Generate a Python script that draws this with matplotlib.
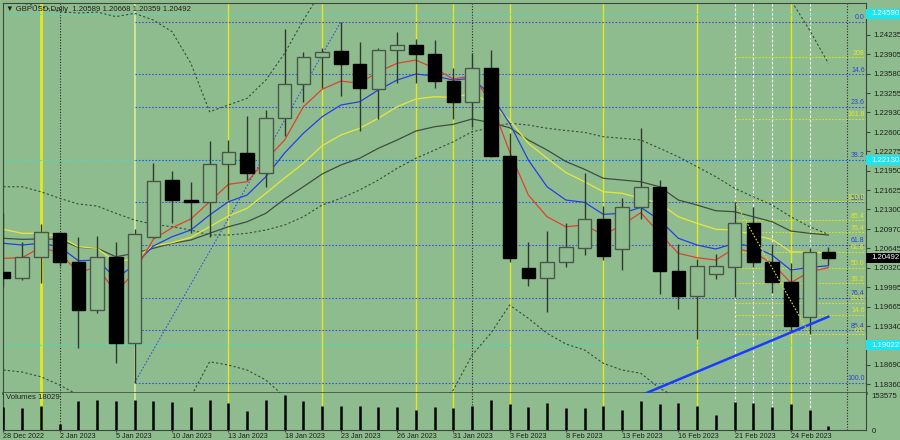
import matplotlib
matplotlib.use("Agg")
import matplotlib.pyplot as plt
import matplotlib.transforms as mtransforms
from matplotlib.patches import Rectangle
import numpy as np
import pandas as pd

plt.rcParams['font.family'] = ['Liberation Sans', 'DejaVu Sans']

# --- data ---
dates = pd.bdate_range("2022-12-28", "2023-02-28")

opens = [1.20253, 1.20143, 1.20505, 1.20899, 1.20421, 1.19610, 1.20505, 1.19061, 1.20830, 1.21789,
         1.21458, 1.21419, 1.22063, 1.22253, 1.21907, 1.22831, 1.23402, 1.23855, 1.23961, 1.23738,
         1.23323, 1.23978, 1.24062, 1.23906, 1.23462, 1.23109, 1.23681, 1.22197, 1.20311, 1.20143,
         1.20421, 1.20657, 1.21139, 1.20630, 1.21335, 1.21681, 1.20270, 1.19850, 1.20215, 1.20337,
         1.21067, 1.20411, 1.20075, 1.19498, 1.20589]
highs = [1.21240, 1.20757, 1.21055, 1.20910, 1.20831, 1.20858, 1.20757, 1.20971, 1.22075, 1.21950,
         1.21755, 1.22444, 1.22461, 1.22874, 1.22970, 1.24331, 1.23949, 1.24017, 1.24450, 1.24117,
         1.24017, 1.24275, 1.24158, 1.24146, 1.23681, 1.23923, 1.23978, 1.22580, 1.20747, 1.20937,
         1.21077, 1.21907, 1.21362, 1.21487, 1.22673, 1.21794, 1.20714, 1.20462, 1.20546, 1.21441,
         1.21335, 1.20714, 1.20395, 1.20647, 1.20668]
lows = [1.19996, 1.20114, 1.20069, 1.20349, 1.18977, 1.19555, 1.18715, 1.18390, 1.20815, 1.21077,
        1.20899, 1.20841, 1.21458, 1.21794, 1.21671, 1.22533, 1.23109, 1.23335, 1.23210, 1.22617,
        1.22814, 1.23429, 1.23419, 1.23345, 1.22824, 1.22689, 1.22175, 1.20421, 1.20018, 1.19581,
        1.20337, 1.20534, 1.20450, 1.20282, 1.21139, 1.19874, 1.19627, 1.19123, 1.20126, 1.19833,
        1.20337, 1.19901, 1.19257, 1.19202, 1.20359]
closes = [1.20143, 1.20505, 1.20915, 1.20421, 1.19610, 1.20505, 1.19061, 1.20882, 1.21782, 1.21458,
          1.21424, 1.22063, 1.22269, 1.21907, 1.22831, 1.23402, 1.23855, 1.23939, 1.23738, 1.23335,
          1.23978, 1.24062, 1.23911, 1.23462, 1.23109, 1.23671, 1.22197, 1.20479, 1.20143, 1.20421,
          1.20663, 1.21139, 1.20522, 1.21335, 1.21681, 1.20270, 1.19850, 1.20354, 1.20354, 1.21067,
          1.20411, 1.20075, 1.19346, 1.20579, 1.20492]
volumes = [102386, 95468, 106537, 26288, 127291, 130058, 125908, 134209, 127291, 124524,
           102386, 134209, 120373, 85783, 134209, 153575, 125908, 103770, 106537, 103770,
           101003, 102386, 88550, 99619, 98236, 106537, 131442, 114839, 102386, 120373,
           96852, 98236, 105154, 88550, 125908, 113455, 117606, 107921, 67796, 123140,
           117606, 102386, 114839, 89934, 18029]

ma_red = [1.20479, 1.20489, 1.20663, 1.20573, 1.20237, 1.20337, 1.19901, 1.20253, 1.20798, 1.20993,
          1.21139, 1.21429, 1.21722, 1.21765, 1.22130, 1.22466, 1.23025, 1.23318, 1.23457, 1.23419,
          1.23613, 1.23755, 1.23810, 1.23671, 1.23491, 1.23546, 1.23109, 1.22269, 1.21542, 1.21177,
          1.21009, 1.21038, 1.20870, 1.21038, 1.21245, 1.20899, 1.20563, 1.20489, 1.20450, 1.20647,
          1.20579, 1.20395, 1.20069, 1.20253, 1.20321]
ma_blue = [1.20731, 1.20702, 1.20731, 1.20673, 1.20438, 1.20450, 1.20143, 1.20366, 1.20685, 1.20841,
           1.20954, 1.21206, 1.21429, 1.21542, 1.21849, 1.22248, 1.22579, 1.22857, 1.23054, 1.23109,
           1.23306, 1.23474, 1.23575, 1.23541, 1.23474, 1.23503, 1.23222, 1.22747, 1.22130, 1.21681,
           1.21458, 1.21419, 1.21218, 1.21235, 1.21335, 1.21122, 1.20815, 1.20702, 1.20635, 1.20731,
           1.20673, 1.20534, 1.20282, 1.20327, 1.20354]
ma_yellow = [1.20966, 1.20899, 1.20899, 1.20841, 1.20673, 1.20647, 1.20411, 1.20479, 1.20685, 1.20741,
             1.20831, 1.21009, 1.21189, 1.21319, 1.21571, 1.21828, 1.22075, 1.22370, 1.22550, 1.22663,
             1.22831, 1.23025, 1.23155, 1.23193, 1.23183, 1.23251, 1.23083, 1.22802, 1.22411, 1.22159,
             1.21920, 1.21765, 1.21597, 1.21571, 1.21487, 1.21403, 1.21177, 1.21067, 1.20966, 1.20954,
             1.20870, 1.20798, 1.20589, 1.20579, 1.20573]
ma_gray = [1.20815, 1.20798, 1.20803, 1.20798, 1.20663, 1.20647, 1.20505, 1.20563, 1.20647, 1.20731,
           1.20786, 1.20899, 1.21009, 1.21093, 1.21235, 1.21475, 1.21681, 1.21895, 1.22046, 1.22159,
           1.22327, 1.22466, 1.22617, 1.22689, 1.22730, 1.22819, 1.22757, 1.22673, 1.22466, 1.22298,
           1.22105, 1.21974, 1.21823, 1.21794, 1.21765, 1.21681, 1.21458, 1.21374, 1.21278, 1.21261,
           1.21177, 1.21093, 1.20937, 1.20899, 1.20870]
bb_upper = [1.24768, 1.24768, 1.24705, 1.24623, 1.24600, 1.24616, 1.24539, 1.24595, 1.24482, 1.24285,
            1.23755, 1.22941, 1.23054, 1.23167, 1.23474, 1.23923, 1.24482, 1.24986, 1.25490, 1.25826,
            1.26162, 1.26414, 1.26582, 1.26582, 1.26616, 1.26364, 1.26128, 1.25792, 1.25960, 1.26112,
            1.26212, 1.26246, 1.26330, 1.26380, 1.26380, 1.26364, 1.26246, 1.26078, 1.25826, 1.25490,
            1.25154, 1.24986, 1.24818, 1.24314, 1.23755]
bb_mid = [1.21681, 1.21681, 1.21597, 1.21487, 1.21391, 1.21357, 1.21235, 1.21122, 1.21050, 1.21009,
          1.20954, 1.20870, 1.20870, 1.20899, 1.20954, 1.21038, 1.21177, 1.21374, 1.21487, 1.21626,
          1.21794, 1.21991, 1.22159, 1.22298, 1.22437, 1.22605, 1.22673, 1.22747, 1.22718, 1.22663,
          1.22626, 1.22595, 1.22521, 1.22495, 1.22466, 1.22327, 1.22185, 1.22017, 1.21849, 1.21655,
          1.21513, 1.21374, 1.21177, 1.21009, 1.20882]
bb_lower = [1.18602, 1.18568, 1.18489, 1.18350, 1.18182, 1.18098, 1.17930, 1.17644, 1.17618, 1.17733,
            1.18153, 1.18741, 1.18686, 1.18602, 1.18434, 1.18153, 1.17880, 1.17762, 1.17481, 1.17426,
            1.17426, 1.17565, 1.17733, 1.18014, 1.18266, 1.18854, 1.19219, 1.19694, 1.19471, 1.19219,
            1.19039, 1.18938, 1.18715, 1.18602, 1.18547, 1.18295, 1.18132, 1.17964, 1.17880, 1.17817,
            1.17880, 1.17762, 1.17539, 1.17707, 1.18009]

# fibonacci retracements: (anchor dates, price at 0 %, price at 100 %)
fib_blue_levels = [0.0, 14.6, 23.6, 38.2, 50.0, 61.8, 76.4, 85.4, 100.0]
fib_blue_dates = ["2023-01-06", "2023-01-23"]
fib_blue_zero, fib_blue_hundred = 1.24453, 1.18389
fib_yellow_levels = [0.0, 14.6, 23.6, 38.2, 50.0, 61.8, 76.4, 85.4, 100.0, 161.8, 208.0]
fib_yellow_dates = ["2023-02-21", "2023-02-27"]
fib_yellow_zero, fib_yellow_hundred = 1.19202, 1.21441

cyan_levels = [1.24590, 1.22130, 1.19022]
trend_dates = ["2023-02-08", "2023-02-28"]
trend_prices = [1.17648, 1.19497]

yellow_vlines = ["2022-12-30", "2023-01-13", "2023-01-20", "2023-01-27", "2023-01-31",
                 "2023-02-03", "2023-02-10", "2023-02-17", "2023-02-24"]
pale_vlines = ["2023-01-06"]
black_vlines = ["2023-01-02", "2023-02-01"]
white_vlines = ["2023-02-21", "2023-02-22", "2023-02-23", "2023-02-27"]

price_ticks = [1.24235, 1.23905, 1.23580, 1.23255, 1.22930, 1.22600, 1.22275, 1.21950, 1.21625,
               1.21300, 1.20970, 1.20645, 1.20320, 1.19995, 1.19665, 1.19340, 1.18690, 1.18360]
last_price = 1.20492

# --- styling ---
BG = '#8fbc8f'
DARK = '#3c483c'
TXT = '#1c221c'

pos = {d.strftime("%Y-%m-%d"): i for i, d in enumerate(dates)}
idx = np.arange(len(dates))

fig = plt.figure(figsize=(9, 4.4), dpi=100)
fig.patch.set_facecolor(BG)
ax = fig.add_axes([3 / 900, 47 / 440, 863 / 900, 390 / 440])
axv = fig.add_axes([3 / 900, 10 / 440, 863 / 900, 37 / 440], sharex=ax)
for a in (ax, axv):
    a.set_facecolor(BG)
    for s in a.spines.values():
        s.set_color(DARK)
        s.set_linewidth(0.8)
ax.spines['bottom'].set_linewidth(1.8)
axv.spines['top'].set_visible(False)

ax.set_xlim(-0.02, 46.01)
ax.set_ylim(1.18216, 1.24768)

# vertical separators (both panels)
for a in (ax, axv):
    for d in yellow_vlines:
        lw = 2.0 if d == "2022-12-30" else 1.0
        a.axvline(pos[d], color='#e4e81e', lw=lw, zorder=1)
    for d in pale_vlines:
        a.axvline(pos[d], color='#d6eca0', lw=1.2, zorder=1)
    for d in black_vlines:
        a.axvline(pos[d], color='#2a2a2a', lw=0.8, ls=(0, (1, 1.5)), zorder=1)
    for d in white_vlines:
        a.axvline(pos[d], color='#eef6ee', lw=0.8, ls=(0, (2.5, 1.5)), zorder=1)
    a.axvline(len(dates), color='#2a2a2a', lw=0.8, ls=(0, (1, 1.5)), zorder=1)

# horizontal cyan levels
for lv in cyan_levels:
    ax.axhline(lv, color='#3ee0c8', lw=0.8, ls=(0, (1.5, 1.5)), zorder=1)

lab_tr = mtransforms.blended_transform_factory(ax.transAxes, ax.transData)


def draw_fib(levels, d0, zero, hundred, color, label_color):
    x0 = pos[d0]
    for lv in levels:
        p = zero + (hundred - zero) * lv / 100.0
        ax.plot([x0, 46.01], [p, p], color=color, lw=0.8, ls=(0, (1.5, 1.5)), zorder=2)
        txt = f"{lv:.1f}" if lv != 208.0 else "208"
        ax.text(0.9985, p + 0.00008, txt, transform=lab_tr, ha='right', va='bottom',
                fontsize=5, color=label_color, zorder=6)


draw_fib(fib_blue_levels, fib_blue_dates[0], fib_blue_zero, fib_blue_hundred,
         '#3a52e0', '#2c44d8')
ax.plot([pos[fib_blue_dates[0]], pos[fib_blue_dates[1]]], [fib_blue_hundred, fib_blue_zero],
        color='#3a52e0', lw=0.8, ls=(0, (1.5, 1.5)), zorder=2)
draw_fib(fib_yellow_levels, fib_yellow_dates[0], fib_yellow_zero, fib_yellow_hundred,
         '#e0e020', '#e6e61a')
ax.plot([pos[fib_yellow_dates[0]], pos[fib_yellow_dates[1]]], [fib_yellow_hundred, fib_yellow_zero],
        color='#e0e020', lw=0.8, ls=(0, (1.5, 1.5)), zorder=6)

# bollinger bands and moving averages
for band in (bb_upper, bb_mid, bb_lower):
    ax.plot(idx, band, color='#3a4a3a', lw=0.8, ls=(0, (2, 2)), zorder=2)
ax.plot(idx, ma_gray, color='#3e4e3e', lw=0.9, zorder=3)
ax.plot(idx, ma_yellow, color='#e8e838', lw=0.9, zorder=3)
ax.plot(idx, ma_blue, color='#2440e6', lw=0.9, zorder=3)
ax.plot(idx, ma_red, color='#e2402c', lw=0.9, zorder=3)

# candles
w = 0.72
for i in idx:
    o, h, l, c = opens[i], highs[i], lows[i], closes[i]
    bull = c >= o
    ax.plot([i, i], [l, h], color='#2e3a2e', lw=1.0, zorder=4, solid_capstyle='butt')
    lo, hi = min(o, c), max(o, c)
    ax.add_patch(Rectangle((i - w / 2, lo), w, max(hi - lo, 0.00003),
                           facecolor=BG if bull else 'black',
                           edgecolor='#4a564a' if bull else 'black', lw=1.0, zorder=5))

# trend line
ax.plot([pos[d] for d in trend_dates], trend_prices, color='#1a3cff', lw=1.8, zorder=4)

# right price scale
ax.yaxis.tick_right()
ax.set_yticks(price_ticks)
ax.set_yticklabels([f"{t:.5f}" for t in price_ticks])
ax.tick_params(axis='y', length=3, width=0.8, color=DARK, labelsize=5.6, labelcolor=TXT, pad=2)
ax.tick_params(axis='x', bottom=False, labelbottom=False)

box_w = 34 / 863
for lv in cyan_levels:
    ax.add_patch(Rectangle((1.0, lv - 0.00084), box_w, 0.00168, transform=lab_tr,
                           facecolor='#1ae6f2', edgecolor='none', clip_on=False, zorder=7))
    ax.text(1.006, lv, f"{lv:.5f}", transform=lab_tr, ha='left', va='center',
            fontsize=5.6, color='#f4ffff', zorder=8, clip_on=False)
ax.add_patch(Rectangle((1.0, last_price - 0.00084), box_w, 0.00168, transform=lab_tr,
                       facecolor='black', edgecolor='none', clip_on=False, zorder=7))
ax.text(1.006, last_price, f"{last_price:.5f}", transform=lab_tr, ha='left', va='center',
        fontsize=5.6, color='white', zorder=8, clip_on=False)

# title
ax.text(0.003, 0.992, "\u25bc GBPUSD,Daily  " + " ".join(f"{v:.5f}" for v in
        (opens[-1], highs[-1], lows[-1], closes[-1])),
        transform=ax.transAxes, ha='left', va='top', fontsize=5.6, color=TXT, zorder=9)

# volumes
vmax = 153575
axv.vlines(idx, 0, volumes, colors='black', lw=1.8, zorder=4)
axv.set_ylim(0, 163120)
axv.yaxis.tick_right()
axv.set_yticks([0, vmax])
axv.set_yticklabels(["0", str(vmax)])
axv.tick_params(axis='y', length=0, labelsize=5.6, labelcolor=TXT, pad=4)
axv.text(0.003, 0.97, f"Volumes {volumes[-1]}", transform=axv.transAxes, ha='left', va='top',
         fontsize=5.6, color=TXT, zorder=9)

tick_idx = idx[::3]
axv.set_xticks(tick_idx)
axv.set_xticklabels([f"{dates[i].day} {dates[i].strftime('%b %Y')}" for i in tick_idx],
                    ha='left')
axv.tick_params(axis='x', length=1.5, width=0.8, color=DARK, labelsize=5.2, labelcolor=TXT, pad=0.3)

fig.savefig("out.png", dpi=100, facecolor=BG)
